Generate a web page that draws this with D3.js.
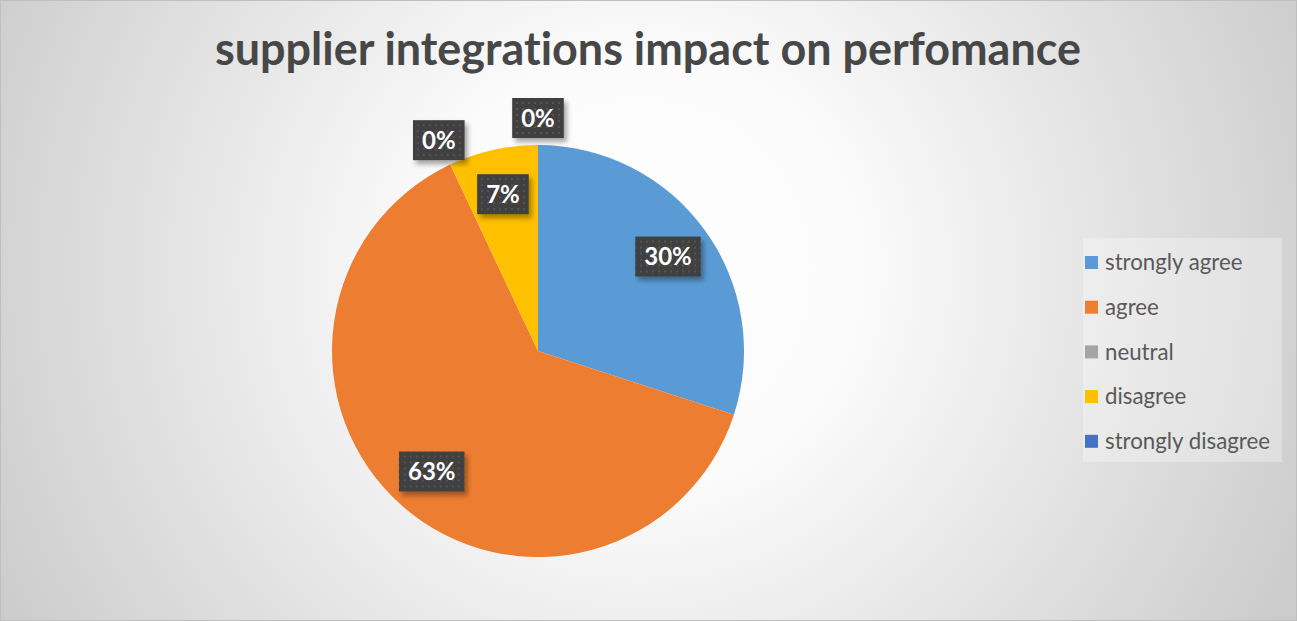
<!DOCTYPE html>
<html>
<head>
<meta charset="utf-8">
<script src="https://cdn.jsdelivr.net/npm/d3@7"></script>
<style>
  body { margin: 0; background: #fff; }
  svg { display: block; }
  text { font-variant-ligatures: none; }
</style>
</head>
<body>
<svg width="1297" height="621"></svg>
<script>
// chart data
var categories = ['strongly agree', 'agree', 'neutral', 'disagree', 'strongly disagree'];
var values = [30, 63, 0, 7, 0];
var colors = ['#5B9BD5', '#ED7D31', '#A5A5A5', '#FFC000', '#4472C4'];
var title = 'supplier integrations impact on perfomance';

var svg = d3.select('svg'),
  width = +svg.attr('width'),
  height = +svg.attr('height');

var defs = svg.append('defs');

// radial background like the office chart area
var grad = defs.append('radialGradient')
  .attr('id', 'bg')
  .attr('gradientUnits', 'userSpaceOnUse')
  .attr('cx', 640).attr('cy', 270).attr('r', 720);
grad.append('stop').attr('offset', '0%').attr('stop-color', '#ffffff');
grad.append('stop').attr('offset', '30%').attr('stop-color', '#fbfbfb');
grad.append('stop').attr('offset', '100%').attr('stop-color', '#cccccc');

// dotted fill for the data labels
var pat = defs.append('pattern')
  .attr('id', 'dots')
  .attr('patternUnits', 'userSpaceOnUse')
  .attr('width', 6).attr('height', 6);
pat.append('rect').attr('width', 6).attr('height', 6).attr('fill', '#3f3f3f');
pat.append('rect').attr('x', 2).attr('y', 2).attr('width', 2).attr('height', 2).attr('fill', '#545454');

var shadow = defs.append('filter').attr('id', 'shadow')
  .attr('x', '-20%').attr('y', '-20%').attr('width', '150%').attr('height', '160%');
shadow.append('feDropShadow')
  .attr('dx', 3).attr('dy', 4).attr('stdDeviation', 2.5)
  .attr('flood-color', '#000').attr('flood-opacity', 0.35);

svg.append('rect')
  .attr('x', 0.5).attr('y', 0.5)
  .attr('width', width - 1).attr('height', height - 1)
  .attr('fill', 'url(#bg)')
  .attr('stroke', '#bfbfbf');

// title, stretched to the same width as the original
var titleText = svg.append('text')
  .attr('x', 648).attr('y', 65)
  .attr('text-anchor', 'middle')
  .attr('font-family', 'Lato, "Open Sans", sans-serif')
  .attr('font-weight', 'bold')
  .attr('font-size', 44)
  .attr('fill', '#474747')
  .text(title);
var tw = titleText.node().getComputedTextLength();
titleText.attr('font-size', 44 * 866 / tw);

// pie
var cx = 538, cy = 351, R = 206;
var g = svg.append('g').attr('transform', 'translate(' + cx + ',' + cy + ')');

var data = categories.map(function(c, i) {
  return {name: c, value: values[i], color: colors[i]};
});

var pie = d3.pie().sort(null).value(function(d) { return d.value; });
var arc = d3.arc().innerRadius(0).outerRadius(R);
var arcs = pie(data);

g.selectAll('path.slice')
  .data(arcs)
  .enter()
  .append('path')
  .attr('class', 'slice')
  .attr('d', arc)
  .attr('fill', function(d) { return d.data.color; });

var total = d3.sum(values);
var inner = d3.arc().innerRadius(R * 0.78).outerRadius(R * 0.78);
var outer = d3.arc().innerRadius(R + 27).outerRadius(R + 27);

var labels = g.selectAll('g.lbl')
  .data(arcs)
  .enter()
  .append('g')
  .attr('class', 'lbl')
  .attr('transform', function(d) {
    var p = d.data.value > 0 ? inner.centroid(d) : outer.centroid(d);
    return 'translate(' + p[0] + ',' + p[1] + ')';
  });

labels.each(function(d) {
  var el = d3.select(this);
  var txt = Math.round(d.data.value / total * 100) + '%';
  var t = el.append('text')
    .attr('text-anchor', 'middle')
    .attr('dy', '0.36em')
    .attr('font-family', 'Lato, "Open Sans", sans-serif')
    .attr('font-weight', 'bold')
    .attr('font-size', 24)
    .attr('fill', '#ffffff')
    .text(txt);
  var w = t.node().getComputedTextLength() + 18;
  el.insert('rect', 'text')
    .attr('x', -w / 2).attr('y', -20)
    .attr('width', w).attr('height', 40)
    .attr('fill', 'url(#dots)')
    .attr('filter', 'url(#shadow)');
});

// legend
var legend = svg.append('g').attr('transform', 'translate(1083,238)');
legend.append('rect')
  .attr('width', 199).attr('height', 224)
  .attr('fill', '#ffffff').attr('opacity', 0.3);

var item = legend.selectAll('g.item')
  .data(data)
  .enter()
  .append('g')
  .attr('class', 'item')
  .attr('transform', function(d, i) { return 'translate(0,' + (24.5 + i * 44.7) + ')'; });

item.append('rect')
  .attr('x', 2).attr('y', -6.5)
  .attr('width', 13).attr('height', 13)
  .attr('fill', function(d) { return d.color; });

var legText = item.append('text')
  .attr('x', 22).attr('dy', '0.35em')
  .attr('font-family', 'Lato, "Open Sans", sans-serif')
  .attr('font-size', 20)
  .attr('fill', '#595959')
  .text(function(d) { return d.name; });

// size the legend font so the longest entry matches the original width
var longest = d3.max(legText.nodes(), function(n) { return n.getComputedTextLength(); });
legText.attr('font-size', 20 * 165 / longest);
</script>
</body>
</html>
